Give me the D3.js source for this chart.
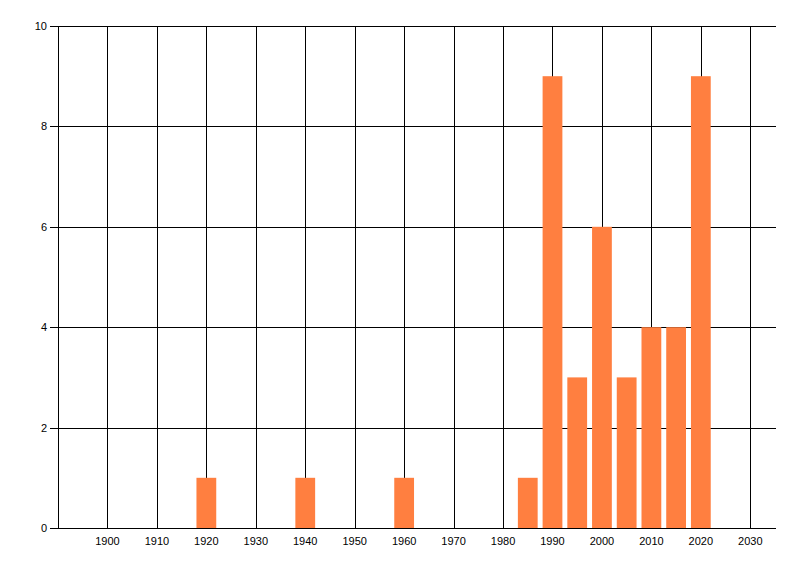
<!DOCTYPE html>
<html>
<head>
<meta charset="utf-8">
<script src="https://cdn.jsdelivr.net/npm/d3@7"></script>
<style>
  body { margin: 0; background: #fff; }
  text { font-family: "Liberation Sans", Arial, sans-serif; font-size: 11px; fill: #000; }
</style>
</head>
<body>
<svg id="chart" width="800" height="576"></svg>
<script>
// data
const years = [1920, 1940, 1960, 1985, 1990, 1995, 2000, 2005, 2010, 2015, 2020];
const counts = [1, 1, 1, 1, 9, 3, 6, 3, 4, 4, 9];
const xTicks = [1900, 1910, 1920, 1930, 1940, 1950, 1960, 1970, 1980, 1990, 2000, 2010, 2020, 2030];
const yTicks = [0, 2, 4, 6, 8, 10];

const margin = { top: 26, right: 24, bottom: 48, left: 58 },
    width = 800 - margin.left - margin.right,
    height = 576 - margin.top - margin.bottom;

const svg = d3.select("#chart");
const g = svg.append("g")
    .attr("transform", `translate(${margin.left},${margin.top})`);

const x = d3.scaleLinear().domain([1890, 2035.2]).range([0, width]);
const y = d3.scaleLinear().domain([0, 10]).range([height, 0]);

// grid
g.append("g")
    .selectAll("line")
    .data(xTicks)
    .enter()
    .append("line")
    .attr("x1", d => Math.round(x(d)) + 0.5)
    .attr("x2", d => Math.round(x(d)) + 0.5)
    .attr("y1", 0)
    .attr("y2", height)
    .attr("stroke", "#000")

g.append("g")
    .selectAll("line")
    .data(yTicks)
    .enter()
    .append("line")
    .attr("x1", -8)
    .attr("x2", width)
    .attr("y1", d => Math.round(y(d)) + 0.5)
    .attr("y2", d => Math.round(y(d)) + 0.5)
    .attr("stroke", "#000")

// y axis line
g.append("line")
    .attr("x1", 0.5).attr("x2", 0.5)
    .attr("y1", 0).attr("y2", height)
    .attr("stroke", "#000")

// bars
const half = x(1902) - x(1900);
g.append("g")
    .selectAll("rect")
    .data(years)
    .enter()
    .append("rect")
    .attr("x", d => x(d) - half)
    .attr("width", half * 2)
    .attr("y", (d, i) => y(counts[i]))
    .attr("height", (d, i) => y(0) - y(counts[i]))
    .style("fill", "#ff7f40")

// labels
g.append("g")
    .selectAll("text")
    .data(yTicks)
    .enter()
    .append("text")
    .attr("x", -11)
    .attr("y", d => y(d))
    .attr("dy", "0.36em")
    .attr("text-anchor", "end")
    .text(d => d)

g.append("g")
    .selectAll("text")
    .data(xTicks)
    .enter()
    .append("text")
    .attr("x", d => x(d))
    .attr("y", height + 17)
    .attr("text-anchor", "middle")
    .text(d => d)
</script>
</body>
</html>
